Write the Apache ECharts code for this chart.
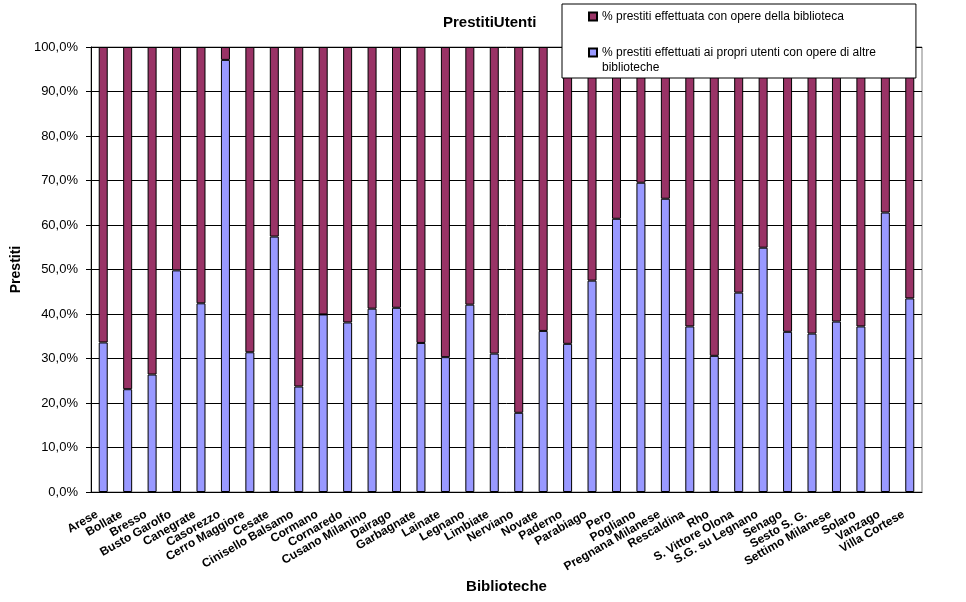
<!DOCTYPE html>
<html>
<head>
    <meta charset="utf-8" />
    <title>PrestitiUtenti</title>
    <script src="https://cdn.jsdelivr.net/npm/echarts@6/dist/echarts.min.js"></script>
    <style>
        html, body { margin: 0; padding: 0; background: #fff; }
        #container { width: 966px; height: 602px; }
    </style>
</head>
<body>
    <div id="container"></div>
<script>
    // biblioteche (asse x)
    var biblioteche = ["Arese", "Bollate", "Bresso", "Busto Garolfo", "Canegrate", "Casorezzo",
        "Cerro Maggiore", "Cesate", "Cinisello Balsamo", "Cormano", "Cornaredo", "Cusano Milanino",
        "Dairago", "Garbagnate", "Lainate", "Legnano", "Limbiate", "Nerviano", "Novate", "Paderno",
        "Parabiago", "Pero", "Pogliano", "Pregnana Milanese", "Rescaldina", "Rho", "S. Vittore Olona",
        "S.G. su Legnano", "Senago", "Sesto S. G.", "Settimo Milanese", "Solaro", "Vanzago", "Villa Cortese"];

    // % prestiti ai propri utenti con opere di altre biblioteche (blu, in basso)
    var altreBiblioteche = [33.6, 23.1, 26.4, 49.8, 42.4, 97.1, 31.4, 57.4, 23.7, 39.9, 38.1, 41.2,
        41.4, 33.5, 30.3, 42.1, 31.1, 17.8, 36.2, 33.3, 47.5, 61.4, 69.5, 65.9, 37.2, 30.6, 44.8,
        54.9, 36.0, 35.6, 38.3, 37.2, 62.8, 43.5];

    // % prestiti con opere della biblioteca (viola, in alto)
    var operePropri = [66.4, 76.9, 73.6, 50.2, 57.6, 2.9, 68.6, 42.6, 76.3, 60.1, 61.9, 58.8,
        58.6, 66.5, 69.7, 57.9, 68.9, 82.2, 63.8, 66.7, 52.5, 38.6, 30.5, 34.1, 62.8, 69.4, 55.2,
        45.1, 64.0, 64.4, 61.7, 62.8, 37.2, 56.5];

    var nomeViola = "% prestiti effettuata con opere della biblioteca";
    var nomeBlu = "% prestiti effettuati ai propri utenti con opere di altre biblioteche";

    var font = "'Liberation Sans', Arial, sans-serif";

    var myChart = echarts.init(document.getElementById("container"), null, { renderer: 'canvas' });

    var option = {
        animation: false,
        backgroundColor: '#fff',
        title: {
            text: 'PrestitiUtenti',
            left: 438, top: 10,
            textStyle: { fontFamily: font, fontSize: 15, fontWeight: 'bold', color: '#000' }
        },
        legend: {
            orient: 'vertical',
            left: 562, top: 4,
            itemWidth: 8, itemHeight: 8, itemGap: 6,
            backgroundColor: '#fff',
            borderColor: '#000', borderWidth: 1,
            padding: [5, 40, 3, 26],
            textStyle: { fontFamily: font, fontSize: 12, color: '#000', lineHeight: 15 },
            formatter: function (name) {
                //riga vuota sopra: cosi' la prima riga resta allineata al quadratino
                return name == nomeBlu ? "\n% prestiti effettuati ai propri utenti con opere di altre\nbiblioteche" : name;
            },
            data: [
                { name: nomeViola, icon: 'rect' },
                { name: nomeBlu, icon: 'rect' }
            ]
        },
        grid: {
            left: 91, right: 44, top: 47, bottom: 110,
            show: true, borderColor: '#808080', borderWidth: 1, backgroundColor: 'transparent'
        },
        xAxis: {
            type: 'category',
            data: biblioteche,
            name: 'Biblioteche',
            nameLocation: 'middle',
            nameGap: 82,
            nameTextStyle: { fontFamily: font, fontSize: 15, fontWeight: 'bold', color: '#000' },
            axisLine: { lineStyle: { color: '#000', width: 1 } },
            axisTick: { length: 5, lineStyle: { color: '#000' } },
            axisLabel: {
                interval: 0, rotate: 30, margin: 18, padding: [0, 7, 0, 0],
                fontFamily: font, fontSize: 12, fontWeight: 'bold', color: '#000'
            },
            splitLine: { show: false }
        },
        yAxis: {
            type: 'value',
            min: 0, max: 100, interval: 10,
            name: 'Prestiti',
            nameLocation: 'middle',
            nameGap: 67,
            nameTextStyle: { fontFamily: font, fontSize: 14, fontWeight: 'bold', color: '#000' },
            axisLine: { show: true, lineStyle: { color: '#000', width: 1 } },
            axisTick: { show: true, length: 5, lineStyle: { color: '#000' } },
            axisLabel: {
                margin: 13, fontFamily: font, fontSize: 13, color: '#000',
                formatter: function (v) { return v.toFixed(1).replace('.', ',') + '%'; }
            },
            splitLine: { show: true, lineStyle: { color: '#000', width: 1 } }
        },
        series: [
            {
                name: nomeBlu, type: 'bar', stack: 'tot',
                barWidth: 9,
                itemStyle: { color: '#9999FF', borderColor: '#000', borderWidth: 1 },
                data: altreBiblioteche
            },
            {
                name: nomeViola, type: 'bar', stack: 'tot',
                barWidth: 9,
                itemStyle: { color: '#993366', borderColor: '#000', borderWidth: 1 },
                data: operePropri
            }
        ]
    };

    myChart.setOption(option);
</script>
</body>
</html>
